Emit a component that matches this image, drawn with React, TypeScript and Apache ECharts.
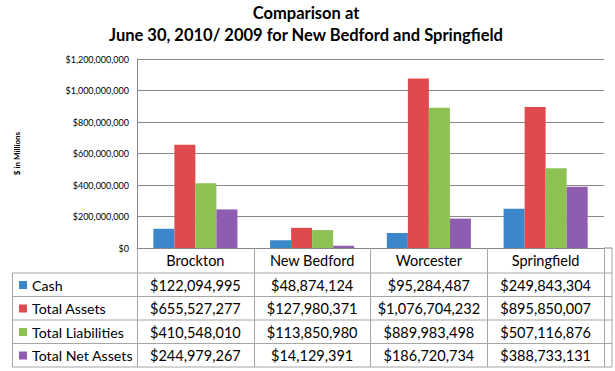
import React, { useEffect, useRef } from "react";
import * as echarts from "echarts";

const categories = ["Brockton", "New Bedford", "Worcester", "Springfield"];
const seriesNames = ["Cash", "Total Assets", "Total Liabilities", "Total Net Assets"];
const cash = [122094995, 48874124, 95284487, 249843304];
const totalAssets = [655527277, 127980371, 1076704232, 895850007];
const totalLiabilities = [410548010, 113850980, 889983498, 507116876];
const totalNetAssets = [244979267, 14129391, 186720734, 388733131];
const colors = ["#3c86cc", "#e04a4e", "#8ec153", "#8e5cb0"];

const FONT = "Lato";
const fmt = (v: number) => "$" + v.toLocaleString("en-US");

export default function App() {
  const ref = useRef<HTMLDivElement>(null);
  useEffect(() => {
    if (!ref.current) return;
    const chart = echarts.init(ref.current, null, { renderer: "svg" });
    const allSeries = [cash, totalAssets, totalLiabilities, totalNetAssets];
    const axisBottom = 248;
    const rowCenters = [285, 308.5, 332, 355.5];
    const tableLine = "#a6a6a6";
    const rowAxes = allSeries.map((vals, k) => ({
      type: "category",
      gridIndex: 0,
      position: "bottom",
      data: categories,
      axisLine: { show: false },
      axisTick: { show: false },
      splitLine: { show: false },
      axisLabel: {
        interval: 0,
        margin: rowCenters[k] - axisBottom,
        verticalAlign: "middle",
        fontFamily: FONT,
        fontSize: 14.5,
        color: "#000",
        formatter: (_v: string, i: number) => fmt(vals[i]),
      },
    }));
    const hLines = [273, 296.5, 320, 343.5, 367].map((y) => ({
      type: "line",
      shape: { x1: 12.5, y1: y, x2: 612, y2: y },
      style: { stroke: tableLine, lineWidth: 1 },
      silent: true,
    }));
    chart.setOption({
      animation: false,
      color: colors,
      title: {
        text: "Comparison at\nJune 30, 2010/ 2009 for New Bedford and Springfield",
        left: 306,
        textAlign: "center",
        top: 2,
        padding: 0,
        textStyle: {
          fontFamily: FONT,
          fontWeight: "bold",
          fontSize: 16.5,
          lineHeight: 22,
          color: "#000",
        },
      },
      legend: {
        orient: "vertical",
        left: 19,
        top: 277,
        padding: 0,
        itemGap: 7.5,
        itemWidth: 8,
        itemHeight: 8,
        icon: "rect",
        selectedMode: false,
        data: seriesNames,
        textStyle: { fontFamily: FONT, fontSize: 14.2, lineHeight: 16, color: "#000" },
      },
      grid: { left: 137, right: 11, top: 59, bottom: 123, containLabel: false },
      xAxis: [
        {
          type: "category",
          data: categories,
          axisLine: { show: true, lineStyle: { color: "#888", width: 1 } },
          axisTick: { show: true, length: 119, lineStyle: { color: tableLine } },
          axisLabel: {
            interval: 0,
            margin: 12.5,
            verticalAlign: "middle",
            fontFamily: FONT,
            fontSize: 14.5,
            color: "#000",
          },
        },
        ...rowAxes,
      ],
      yAxis: {
        type: "value",
        min: 0,
        max: 1200000000,
        interval: 200000000,
        name: "$ in Millions",
        nameLocation: "middle",
        nameGap: 116,
        nameRotate: 90,
        nameTextStyle: { fontFamily: FONT, fontSize: 8, fontWeight: "bold", color: "#000" },
        axisLine: { show: true, lineStyle: { color: "#888" } },
        axisTick: { show: false },
        splitLine: { lineStyle: { color: "#888" } },
        axisLabel: {
          margin: 8,
          fontFamily: FONT,
          fontSize: 9,
          color: "#000",
          formatter: (v: number) => fmt(v),
        },
      },
      series: allSeries.map((vals, k) => ({
        type: "bar",
        name: seriesNames[k],
        xAxisIndex: 0,
        data: vals,
        barGap: "0%",
        barCategoryGap: "28%",
        itemStyle: { color: colors[k] },
      })),
      graphic: [
        ...hLines,
        {
          type: "line",
          shape: { x1: 12.5, y1: 273, x2: 12.5, y2: 367 },
          style: { stroke: tableLine, lineWidth: 1 },
          silent: true,
        },
        {
          type: "line",
          shape: { x1: 612, y1: 248, x2: 612, y2: 367 },
          style: { stroke: tableLine, lineWidth: 1 },
          silent: true,
        },
        {
          type: "line",
          shape: { x1: 604, y1: 248, x2: 612, y2: 248 },
          style: { stroke: "#888", lineWidth: 1 },
          silent: true,
        },
      ],
    });
    return () => chart.dispose();
  }, []);
  return (
    <div
      ref={ref}
      style={{ position: "fixed", left: 0, top: 0, width: 615, height: 371, background: "#fff" }}
    />
  );
}
